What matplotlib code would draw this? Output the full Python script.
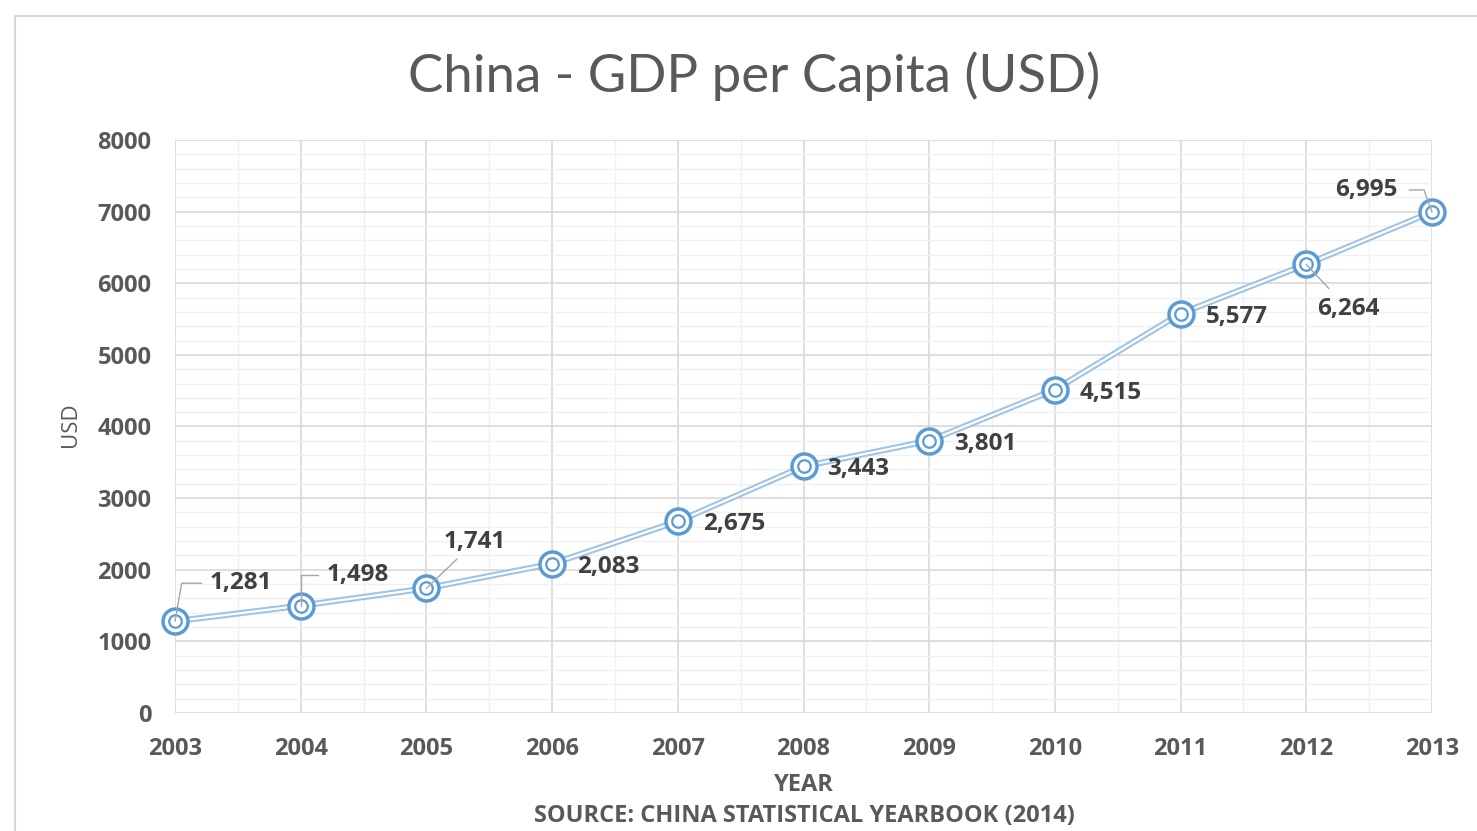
import matplotlib.pyplot as plt
from matplotlib.ticker import MultipleLocator
from matplotlib.patches import Rectangle

plt.rcParams['font.family'] = ['Open Sans', 'DejaVu Sans']

#%% data
years = [2003, 2004, 2005, 2006, 2007, 2008, 2009, 2010, 2011, 2012, 2013]
gdp = [1281, 1498, 1741, 2083, 2675, 3443, 3801, 4515, 5577, 6264, 6995]
labels = ['1,281', '1,498', '1,741', '2,083', '2,675', '3,443', '3,801',
          '4,515', '5,577', '6,264', '6,995']

# label offsets in pixels, alignment, leader style
offsets = [(35, 38), (26, 31), (48, 46), (25, -3), (25, -3), (24, -3), (25, -3),
           (25, -3), (25, -3), (42, -45), (-34, 22)]
aligns = ['left', 'left', 'center', 'left', 'left', 'left', 'left',
          'left', 'left', 'center', 'right']

blue = '#5B9BD5'
light = '#9DC3E6'
txt = '#404040'
gray = '#595959'

fig = plt.figure(figsize=(14.77, 8.31), dpi=100)
fig.patches.append(Rectangle((15/1477, -0.1), 1.2, 1 - 16/831 + 0.1,
                             transform=fig.transFigure, fill=False,
                             edgecolor='#D9D9D9', linewidth=1.5))
ax = fig.add_axes([175/1477, 1 - 713/831, (1432 - 175)/1477, (713 - 140)/831])

ax.set_xlim(2003, 2013)
ax.set_ylim(0, 8000)
ax.xaxis.set_major_locator(MultipleLocator(1))
ax.xaxis.set_minor_locator(MultipleLocator(0.5))
ax.yaxis.set_major_locator(MultipleLocator(1000))
ax.yaxis.set_minor_locator(MultipleLocator(200))
ax.grid(which='major', color='#D9D9D9', linewidth=1.2)
ax.grid(which='minor', color='#F0F0F0', linewidth=1.0)
ax.set_axisbelow(True)
for s in ax.spines.values():
    s.set_visible(False)
ax.tick_params(which='both', length=0)
ax.tick_params(axis='y', pad=17, labelsize=17, labelcolor=gray)
ax.tick_params(axis='x', pad=17, labelsize=17, labelcolor=gray)
for t in ax.get_xticklabels() + ax.get_yticklabels():
    t.set_fontweight('bold')

# double line
ax.plot(years, gdp, color=light, linewidth=4.5, zorder=3, clip_on=False)
ax.plot(years, gdp, color='white', linewidth=1.6, zorder=3, clip_on=False)
ax.plot(years, gdp, linestyle='none', marker='o', markersize=18,
        markerfacecolor='white', markeredgecolor=blue, markeredgewidth=2.5,
        zorder=4, clip_on=False)
ax.plot(years, gdp, linestyle='none', marker='o', markersize=9,
        markerfacecolor='white', markeredgecolor=blue, markeredgewidth=1.6,
        zorder=5, clip_on=False)

for i, (x, y) in enumerate(zip(years, gdp)):
    arrow = None
    if i in (0, 1):
        arrow = dict(arrowstyle='-', color='#A6A6A6', lw=1, shrinkA=4, shrinkB=0,
                     connectionstyle='angle,angleA=0,angleB=%d,rad=0' % (80 if i == 0 else 90))
    elif i == 2:
        arrow = dict(arrowstyle='-', color='#A6A6A6', lw=1, shrinkA=2, shrinkB=0)
    elif i == 9:
        arrow = dict(arrowstyle='-', color='#A6A6A6', lw=1, shrinkA=6, shrinkB=0)
    elif i == 10:
        arrow = dict(arrowstyle='-', color='#A6A6A6', lw=1, shrinkA=6, shrinkB=0,
                     connectionstyle='angle,angleA=0,angleB=110,rad=0')
    ax.annotate(labels[i], (x, y), xytext=offsets[i], textcoords='offset pixels',
                ha=aligns[i], va='center', fontsize=17.5, fontweight='bold',
                color=txt, arrowprops=arrow, zorder=6, annotation_clip=False)

fig.text(754/1477, 1 - 76/831, 'China - GDP per Capita (USD)', ha='center',
         va='center', fontsize=38, color=gray, family=['Lato', 'DejaVu Sans'])
fig.text(70/1477, 1 - 425/831, 'USD', rotation=90, ha='center', va='center',
         fontsize=16, color=gray)
fig.text(804/1477, 1 - 785/831, 'YEAR', ha='center', va='center',
         fontsize=17, fontweight='bold', color=gray)
fig.text(804/1477, 1 - 816/831, 'SOURCE: CHINA STATISTICAL YEARBOOK (2014)',
         ha='center', va='center', fontsize=17, fontweight='bold', color=gray)

fig.savefig('out.png', dpi=100)
